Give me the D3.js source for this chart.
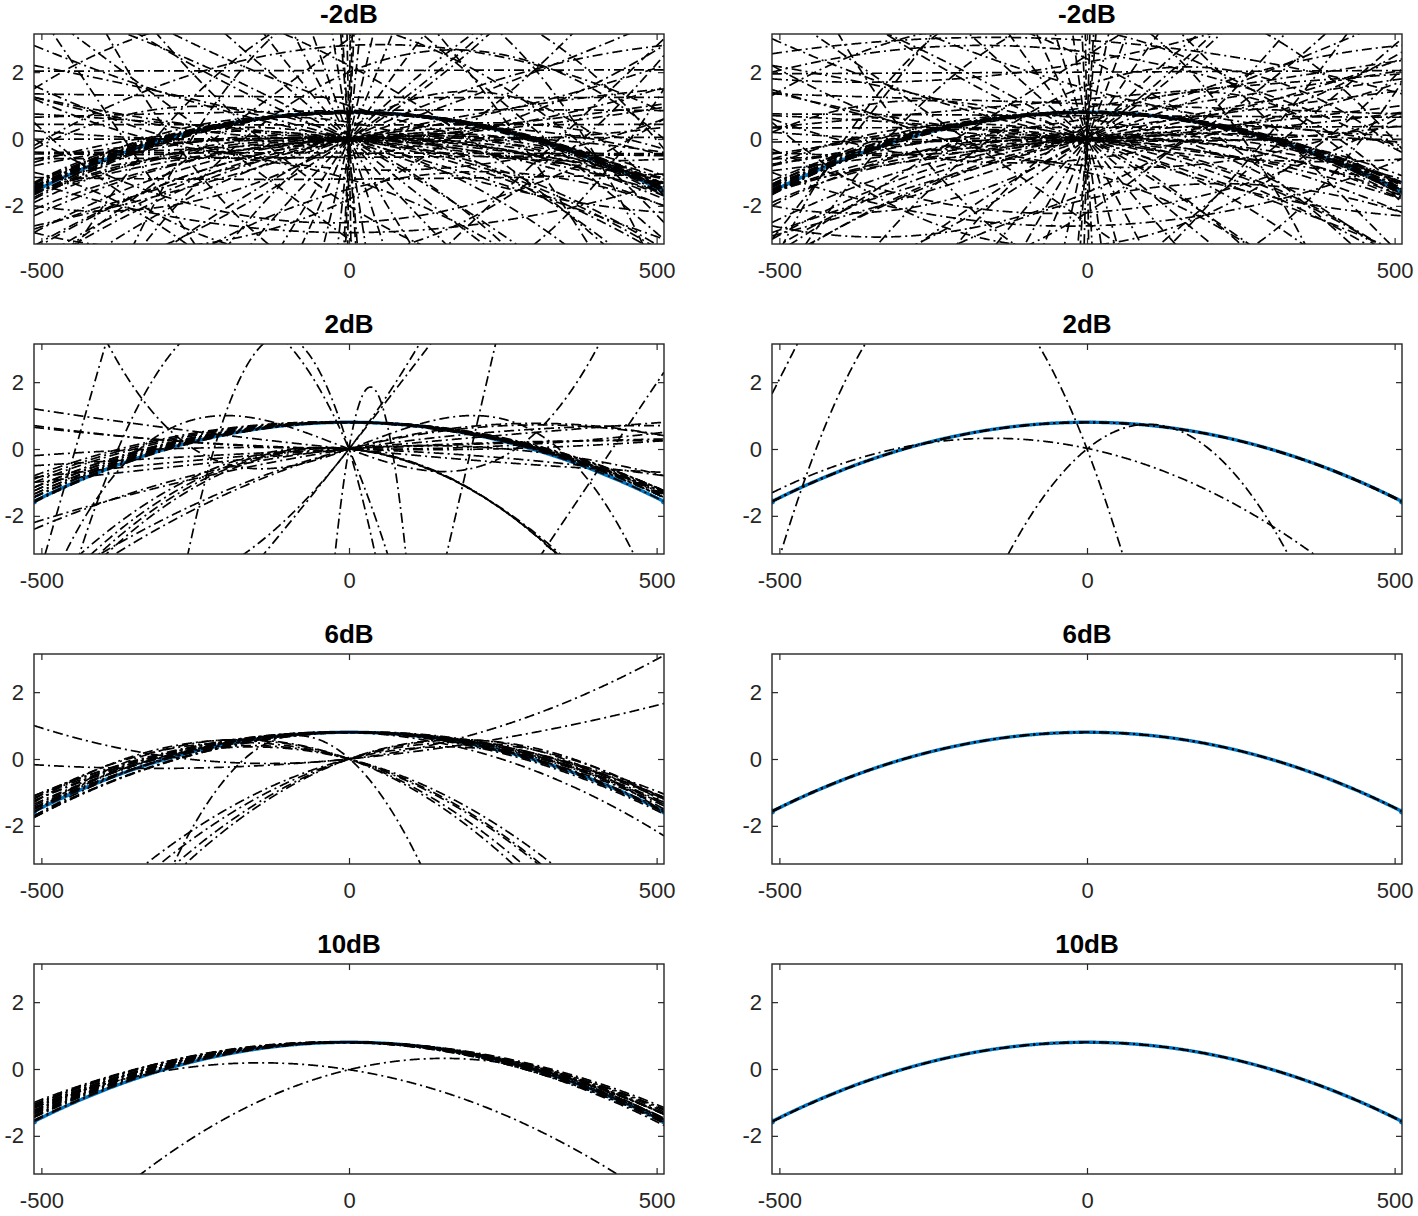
<!DOCTYPE html>
<html lang="en">
<head>
  <meta charset="UTF-8" />
  <title>Phase estimates by SNR</title>
  <script src="https://d3js.org/d3.v7.min.js"></script>
  <style>
    body {
      margin: 0;
      background: #fff;
      font-family: "Liberation Sans", Arial, sans-serif;
    }
    .axis text {
      font-size: 22px;
      fill: #262626;
      font-family: "Liberation Sans", Arial, sans-serif;
    }
    .axis path { display: none; }
    .axis line { stroke: #262626; stroke-width: 1.2; }
    .title {
      font-size: 26px;
      font-weight: bold;
      fill: #000;
    }
  </style>
</head>
<body>
<svg id="chart" width="1418" height="1216"></svg>
<script>
// panel titles, row by row
const titles = ["-2dB", "-2dB", "2dB", "2dB", "6dB", "6dB", "10dB", "10dB"];
const xTicks = [-500, 0, 500];
const yTicks = [-2, 0, 2];
const xLimit = [-512, 512];
const yLimit = [-Math.PI, Math.PI];

// polynomial coefficients [c0, c1, c2, c3] in u = n / 512
const trueCurve = [0.8, 0, -2.37];

const est_m2dB_a = [
  // around the true curve
  [0.8, 0, -2.37], [0.79, 0.04, -2.3], [0.81, -0.05, -2.33], [0.78, 0.08, -2.25], [0.8, -0.1, -2.4],
  [0.82, 0.02, -2.2], [0.77, -0.03, -2.28], [0.8, 0.12, -2.35], [0.79, -0.08, -2.18], [0.81, 0.06, -2.42],
  [0.76, 0, -2.1], [0.8, 0.15, -2.45], [0.8, 0.05, -2.5], [0.8, -0.02, -2.27],
  // offset lost, through the origin
  [0, 0.3, -2.0], [0, -0.2, -1.8], [0, 0.5, -2.3], [0, 0.1, -1.5], [0, -0.4, -1.2], [0, 0.9, -2.4],
  [0, 1.3, -2.4], [0, 1.7, -2.2], [0, 2.2, -2.5], [0, -1.0, -2.4], [0, -1.4, -2.1], [0, -0.7, -2.6],
  [0, 0.6, -1.0], [0, -0.3, -0.9], [0, 1.0, -2.2], [0, 0.4, -1.7],
  // fan of lines through the origin
  [0, 0.35, 0.6], [0, -0.45, 0.8], [0, 0.75, 0.3], [0, -0.95, -0.2], [0, 1.3, 0.9], [0, -1.7, 1.1],
  [0, 2.1, -0.6], [0, -2.6, -0.4], [0, 3.1, 0.5], [0, -3.7, 1.5], [0, 4.6, -1.8], [0, -5.3, -1.2],
  [0, 6.6, 2.0], [0, -7.7, 0.8], [0, 9.2, -3], [0, -11, 2.5], [0, 14, -4], [0, -17, 5], [0, 22, 6],
  [0, -28, -8], [0, 40, 10], [0, -60, -12], [0, 90, 20], [0, -150, 30], [0, 300, 0], [0, -500, 0],
  [0, 800, 0], [0, -120, 0], [0, 200, -50], [0, 0.15, 1.4], [0, -2.2, -3.5], [0, 5.5, 3.5], [0, -4.2, -4.5],
  // almost flat
  [2.05, 0.02, 0], [1.25, -0.05, 0.05], [0.85, 0.1, -0.1], [0.42, 0, 0.02],
  [0.02, 0.03, 0], [-0.42, -0.02, 0], [-0.55, 0.06, 0.02], [-1.2, 0.05, 0.1],
  // stray arcs and lines
  [2.8, 0.5, -2.5], [-2.5, 0.3, 2.8], [1.0, -3.0, 1.5], [-1.5, 2.5, -3.0], [3.5, -2.0, -4.0],
  [-3.5, 1.0, 5.0], [2.0, 4.0, -6.0], [0.5, -1.5, -3.5], [-0.5, 0.8, 2.5], [-2.0, -6, 4],
  [4.5, 3, -12], [-1.2, -2.8, -3.0], [0.3, 6.0, -8.0], [-2.8, 0, 1.5], [6, -9, -4],
  [-0.9, -0.5, 2.0], [-8, -12, -5], [-4.5, -3, 9], [4.2, 2.5, -7], [-1.8, 4.5, 3.5], [2.2, -5, -2],
  [-10, -14, 0], [5, -8, 0], [-6, 9, 0], [3, 7, 0], [-3, -7, 0]
];

const est_m2dB_b = [
  [0.8, 0, -2.37], [0.8, 0.05, -2.32], [0.79, -0.04, -2.28], [0.82, 0.07, -2.4], [0.78, -0.09, -2.22],
  [0.8, 0.1, -2.3], [0.81, -0.12, -2.45], [0.77, 0.03, -2.15], [0.8, -0.06, -2.36], [0.79, 0.13, -2.26],
  [0.83, 0, -2.5], [0.78, -0.02, -2.05], [0.8, 0.02, -2.42], [0.8, -0.15, -2.3],
  [0, 0.4, -2.1], [0, -0.3, -1.9], [0, 0.6, -2.4], [0, 0.2, -1.4], [0, -0.5, -1.3], [0, 1.0, -2.3],
  [0, 1.4, -2.5], [0, 1.8, -2.0], [0, -1.1, -2.5], [0, -1.6, -2.2], [0, -0.8, -2.8], [0, 0.7, -0.8],
  [0, 0.3, 0.5], [0, -0.5, 0.9], [0, 0.8, 0.2], [0, -1.0, -0.3], [0, 1.4, 1.0], [0, -1.8, 1.2],
  [0, 2.3, -0.5], [0, -2.8, -0.6], [0, 3.3, 0.4], [0, -3.9, 1.6], [0, 4.8, -2], [0, -5.6, -1],
  [0, 7, 2.2], [0, -8.2, 0.6], [0, 10, -3.2], [0, -12, 2.8], [0, 15, -5], [0, -19, 4], [0, 24, 7],
  [0, -32, -9], [0, 45, 12], [0, -70, -10], [0, 110, 25], [0, -200, 40], [0, 350, 0], [0, -600, 0],
  [0, 150, -30], [0, 0.12, 1.6], [0, -2.4, -3.2], [0, 5.8, 3.8], [0, -4.4, -4.2],
  [0.95, 1.4, 0], [0.6, 1.4, 0.05], [0.25, 1.2, 0], [1.2, 0.8, -0.05], [0.7, -0.05, 0],
  [0.35, 0.02, 0], [-0.05, 0.04, 0], [2.0, 0.05, 0], [1.05, -0.3, 0],
  [2.95, -0.6, -1.0], [2.6, -1.2, -1.8], [-2.2, 0.5, 2.4], [1.5, -2.6, 1.2], [-1.8, 2.2, -2.6],
  [3.3, -1.6, -3.6], [-3.2, 0.8, 4.5], [1.6, 3.5, -5.5], [0.6, -1.2, -3.2], [-0.6, 1.0, 2.2],
  [4.2, -3, -11], [-2.2, 6, 4], [2.3, 1.7, 1.2], [-1.0, -2.5, -3.4], [0.4, 5.5, -7.5],
  [-2.6, 0.2, 1.8], [-5.5, 8, 3], [-0.8, -0.7, 2.3], [-4.2, -2.6, 8.5], [4.0, 2.2, -6.5],
  [-1.6, 4.0, 3.0], [2.4, -4.6, -2.4], [9, 12, 0], [-5, 8, 0], [6, -9.5, 0], [-2.5, -6.5, 0], [2.5, 6, 0]
];

const est_2dB_a = [
  [0.8, 0, -2.37], [0.8, 0.05, -2.3], [0.8, -0.05, -2.2], [0.8, 0.1, -2.15], [0.8, -0.1, -2.05],
  [0.8, 0, -2.25], [0.8, -0.15, -1.95], [0.8, 0.05, -2.1], [0.8, -0.2, -1.9], [0.8, -0.05, -2.0],
  [0.8, 0.1, -2.3], [0.8, -0.1, -2.15], [0.8, -0.25, -1.85], [0.8, 0, -2.05], [0.8, 0.03, -2.2],
  [0, -0.95, 0.25], [0, -0.1, 0.6], [0, -0.2, 0.45], [0, 0.4, -0.1], [0, 0.9, -0.1], [0, 1.45, -0.75],
  [0, -0.3, -0.5], [0, 0.8, -1.6], [0, 0.55, -0.3],
  [0, 2.6, -2.2], [0, 2.4, -2.0], [0, 11.9, 1.0],
  [0, -0.8, -6.0], [0, -0.9, -5.8], [0, -0.7, -6.2], [0, -1.0, -5.5],
  [0, 12.2, 8.3], [0, -31.7, -74], [0, -22, -30], [-15.7, 40.5, 0], [-11.7, 14, 0], [28.4, 32.7, 0],
  [0, 3.45, 1.83, -10.5], [0, -3.58, 1.38, 10.2],
  [0.02, 53.9, -396]
];

const est_2dB_b = [
  [0.8, 0, -2.37], [0.8, 0.01, -2.36], [0.79, 0, -2.37], [0.8, -0.01, -2.38],
  [20.25, 18.6, 0], [0, -24.6, -28.6], [0, 7.64, -19.7], [0.02, -2.0, -3.33]
];

const est_6dB_a = [
  [0.8, 0, -2.37], [0.8, 0.1, -2.2], [0.8, -0.1, -2.3], [0.8, 0.05, -2.0], [0.8, -0.05, -1.95],
  [0.8, 0.15, -2.1], [0.8, -0.2, -2.25], [0.8, 0.2, -2.35], [0.8, 0, -2.15], [0.8, -0.15, -2.05],
  [0.8, 0.25, -2.25], [0.8, 0.1, -2.45], [0.8, -0.3, -2.8], [0.8, 0.05, -1.9],
  [0, 1.05, 2.05], [0, 0.915, 0.745],
  [0, 3.22, -4.52], [0, 2.37, -3.87], [0, 2.82, -4.02], [0, 3.43, -5.03],
  [0.02, -8.25, -25],
  [0, -3.22, -4.52], [0, -2.37, -3.87], [0, -2.82, -4.02], [0, -3.43, -5.03], [0, -2.6, -4.2]
];

const est_6dB_b = [[0.8, 0, -2.37], [0.8, 0.01, -2.37], [0.8, -0.01, -2.36]];

const est_10dB_a = [
  [0.8, 0, -2.37], [0.8, 0.03, -2.3], [0.8, -0.05, -2.25], [0.8, -0.1, -1.9], [0.8, -0.15, -2.0],
  [0.8, -0.2, -2.1], [0.8, 0, -2.15], [0.8, -0.08, -2.05], [0.8, 0.05, -2.2], [0.8, -0.12, -2.15],
  [0.8, -0.03, -2.0], [0.8, -0.18, -2.25], [0.8, 0.02, -2.1], [0.8, -0.06, -2.3], [0.8, -0.1, -2.05],
  [0.8, -0.25, -2.15], [0.8, 0, -1.95], [0.8, -0.14, -2.35], [0.8, -0.04, -2.12], [0.8, -0.16, -2.2],
  [-0.02, -1.46, -2.6], [-0.02, 2.25, -3.75]
];

const est_10dB_b = [[0.8, 0, -2.37], [0.8, 0.01, -2.37], [0.8, 0, -2.38]];

const estimates = [est_m2dB_a, est_m2dB_b, est_2dB_a, est_2dB_b, est_6dB_a, est_6dB_b, est_10dB_a, est_10dB_b];

const svg = d3.select("#chart");
const colX = [34, 772];
const rowY = [34, 344, 654, 964];
const pw = 630, ph = 210;

const samples = d3.range(xLimit[0], xLimit[1] + 1, 1);
const plainNum = d => String(d); // hyphen minus, as in the original

function evalPoly(c, n) {
  const u = n / 512;
  let y = 0;
  for (let k = c.length - 1; k >= 0; k--) y = y * u + c[k];
  return Math.max(-12, Math.min(12, y));
}

titles.forEach((t, i) => {
  const x0 = colX[i % 2];
  const y0 = rowY[Math.floor(i / 2)];
  const x = d3.scaleLinear().domain(xLimit).range([x0, x0 + pw]);
  const y = d3.scaleLinear().domain(yLimit).range([y0 + ph, y0]);
  const line = d3.line().x(d => x(d[0])).y(d => y(d[1]));

  svg.append("clipPath").attr("id", "clip" + i)
    .append("rect").attr("x", x0).attr("y", y0).attr("width", pw).attr("height", ph);

  const g = svg.append("g").attr("clip-path", `url(#clip${i})`);

  // reference curve
  const truePts = samples.map(n => [n, evalPoly(trueCurve, n)]);
  g.append("path")
    .attr("d", line(truePts))
    .attr("fill", "none")
    .attr("stroke", "#0072BD")
    .attr("stroke-width", 3.4);
  g.selectAll(".endDot")
    .data([truePts[0], truePts[truePts.length - 1]])
    .enter().append("circle")
    .attr("cx", d => x(d[0])).attr("cy", d => y(d[1]))
    .attr("r", 3).attr("fill", "#0072BD");

  // estimates, dash-dot
  g.selectAll(".est")
    .data(estimates[i])
    .enter().append("path")
    .attr("d", c => line(samples.map(n => [n, evalPoly(c, n)])))
    .attr("fill", "none")
    .attr("stroke", "#000")
    .attr("stroke-width", 1.7)
    .attr("stroke-dasharray", "10,4,2,4");

  // axes, ticks inside like the original
  svg.append("g").attr("class", "axis")
    .attr("transform", `translate(0,${y0 + ph})`)
    .call(d3.axisBottom(x).tickValues(xTicks).tickSizeInner(-6).tickSizeOuter(0).tickPadding(18).tickFormat(plainNum));
  svg.append("g").attr("class", "axis")
    .attr("transform", `translate(0,${y0})`)
    .call(d3.axisTop(x).tickValues(xTicks).tickSizeInner(-6).tickSizeOuter(0).tickFormat(""));
  svg.append("g").attr("class", "axis")
    .attr("transform", `translate(${x0},0)`)
    .call(d3.axisLeft(y).tickValues(yTicks).tickSizeInner(-6).tickSizeOuter(0).tickPadding(10).tickFormat(plainNum));
  svg.append("g").attr("class", "axis")
    .attr("transform", `translate(${x0 + pw},0)`)
    .call(d3.axisRight(y).tickValues(yTicks).tickSizeInner(-6).tickSizeOuter(0).tickFormat(""));

  svg.append("rect")
    .attr("x", x0).attr("y", y0).attr("width", pw).attr("height", ph)
    .attr("fill", "none").attr("stroke", "#262626").attr("stroke-width", 1.4);

  svg.append("text").attr("class", "title")
    .attr("x", x0 + pw / 2).attr("y", y0 - 11)
    .attr("text-anchor", "middle")
    .text(t);
});
</script>
</body>
</html>
